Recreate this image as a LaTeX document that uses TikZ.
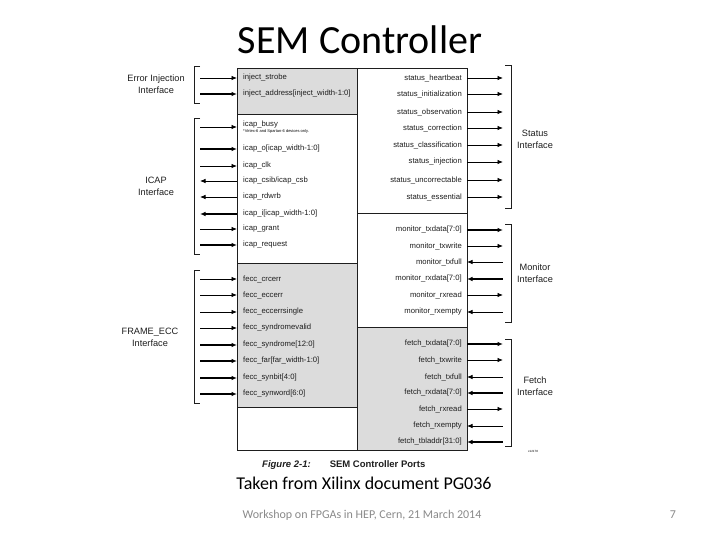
\documentclass[tikz,border=0pt]{standalone}
\usepackage{fontspec}
\setmainfont{Carlito}
\newfontfamily\arialf{Liberation Sans}
\usetikzlibrary{arrows.meta}
\definecolor{boxgray}{RGB}{220,220,220}
\definecolor{footgray}{RGB}{137,137,137}
\definecolor{linecol}{RGB}{30,30,30}
\tikzset{
  lbl/.style={inner sep=0pt,font=\arialf\fontsize{7.7}{8}\selectfont,text=linecol},
  iface/.style={inner sep=0pt,align=center,font=\arialf\fontsize{9.2}{12}\selectfont,text=linecol},
  fwdthin/.style={draw=black,line width=0.8pt,-{Latex[length=5.5pt,width=4.5pt]}},
  fwdthick/.style={draw=black,line width=2.4pt,-{Latex[length=5.5pt,width=4.5pt]}},
  backthin/.style={draw=black,line width=0.8pt,{Latex[length=5.5pt,width=4.5pt]}-},
  backthick/.style={draw=black,line width=2.4pt,{Latex[length=5.5pt,width=4.5pt]}-},
  sect/.style={draw=linecol,line width=0.8pt},
  brk/.style={draw=linecol,line width=0.8pt}
}
% left port: name, y, text, style
\newcommand\portL[4]{%
  \node[lbl,anchor=west] (#1) at (243,#2) {#3};
  \coordinate (#1e) at (200,#2);
  \coordinate (#1b) at (237,#2);
  \draw[#4] (#1e) -- (#1b);
}
% right port: name, y, text, style
\newcommand\portR[4]{%
  \node[lbl,anchor=east] (#1) at (462,#2) {#3};
  \coordinate (#1e) at (503,#2);
  \coordinate (#1b) at (467,#2);
  \draw[#4] (#1b) -- (#1e);
}
\begin{document}
\begin{tikzpicture}[x=1pt,y=-1pt]
\useasboundingbox (0,0) rectangle (720,540);
% title
\node[font=\fontsize{40}{44}\selectfont] (title) at (360,40) {SEM Controller};
% box sections
\draw[sect,fill=boxgray] (237,68) rectangle (357,114);
\draw[sect,fill=white] (237,114) rectangle (357,263);
\draw[sect,fill=boxgray] (237,263) rectangle (357,407);
\draw[sect,fill=white] (237,407) rectangle (357,450);
\draw[sect,fill=white] (357,68) rectangle (467,213);
\draw[sect,fill=white] (357,213) rectangle (467,327);
\draw[sect,fill=boxgray] (357,327) rectangle (467,450);
% left ports
\portL{p1}{78}{inject\_strobe}{fwdthin}
\portL{p2}{94}{inject\_address[inject\_width-1:0]}{fwdthick}
\node[lbl,anchor=west] (p3) at (243,124.5) {icap\_busy};
\coordinate (p3e) at (200,127); \coordinate (p3b) at (237,127);
\draw[fwdthin] (p3e) -- (p3b);
\node[inner sep=0pt,anchor=west,font=\arialf\fontsize{4}{5}\selectfont] (fn) at (243,131.5) {*Virtex-6 and Spartan-6 devices only.};
\portL{p4}{149}{icap\_o[icap\_width-1:0]}{fwdthick}
\portL{p5}{166}{icap\_clk}{fwdthin}
\portL{p6}{181}{icap\_csib/icap\_csb}{backthin}
\portL{p7}{197}{icap\_rdwrb}{backthin}
\portL{p8}{214}{icap\_i[icap\_width-1:0]}{backthick}
\portL{p9}{229}{icap\_grant}{fwdthin}
\portL{p10}{245}{icap\_request}{fwdthick}
\portL{p11}{279}{fecc\_crcerr}{fwdthin}
\portL{p12}{295}{fecc\_eccerr}{fwdthin}
\portL{p13}{312}{fecc\_eccerrsingle}{fwdthin}
\portL{p14}{328}{fecc\_syndromevalid}{fwdthin}
\portL{p15}{345}{fecc\_syndrome[12:0]}{fwdthick}
\portL{p16}{361}{fecc\_far[far\_width-1:0]}{fwdthick}
\portL{p17}{378}{fecc\_synbit[4:0]}{fwdthick}
\portL{p18}{394}{fecc\_synword[6:0]}{fwdthick}
% right ports
\portR{q1}{78}{status\_heartbeat}{fwdthin}
\portR{q2}{94}{status\_initialization}{fwdthin}
\portR{q3}{112}{status\_observation}{fwdthin}
\portR{q4}{128}{status\_correction}{fwdthin}
\portR{q5}{145}{status\_classification}{fwdthin}
\portR{q6}{162}{status\_injection}{fwdthin}
\portR{q7}{180}{status\_uncorrectable}{fwdthin}
\portR{q8}{197}{status\_essential}{fwdthin}
\portR{q9}{230}{monitor\_txdata[7:0]}{fwdthick}
\portR{q10}{246}{monitor\_txwrite}{fwdthin}
\portR{q11}{262}{monitor\_txfull}{backthin}
\portR{q12}{279}{monitor\_rxdata[7:0]}{backthick}
\portR{q13}{295}{monitor\_rxread}{fwdthin}
\portR{q14}{312}{monitor\_rxempty}{backthin}
\portR{q15}{344}{fetch\_txdata[7:0]}{fwdthick}
\portR{q16}{360}{fetch\_txwrite}{fwdthin}
\portR{q17}{377}{fetch\_txfull}{backthin}
\portR{q18}{393}{fetch\_rxdata[7:0]}{backthick}
\portR{q19}{409}{fetch\_rxread}{fwdthin}
\portR{q20}{426}{fetch\_rxempty}{backthin}
\portR{q21}{442}{fetch\_tbladdr[31:0]}{backthick}
% brackets left
\draw[brk] (200,66) -- (194,66) -- (194,103) -- (200,103);
\draw[brk] (200,118) -- (194,118) -- (194,254) -- (200,254);
\draw[brk] (200,270) -- (194,270) -- (194,403) -- (200,403);
% brackets right
\draw[brk] (505,65) -- (511,65) -- (511,208) -- (505,208);
\draw[brk] (505,224) -- (511,224) -- (511,322) -- (505,322);
\draw[brk] (505,339) -- (511,339) -- (511,446) -- (505,446);
% interface labels
\node[iface] (ei) at (156,84) {Error Injection\\Interface};
\node[iface] (ic) at (156,186) {ICAP\\Interface};
\node[iface] (fe) at (150,337) {FRAME\_ECC\\Interface};
\node[iface] (st) at (535,139) {Status\\Interface};
\node[iface] (mo) at (535,273) {Monitor\\Interface};
\node[iface] (fi) at (535,386) {Fetch\\Interface};
\node[inner sep=0pt,font=\arialf\fontsize{3}{4}\selectfont] (code) at (533,451) {x12178};
% caption
\node[inner sep=0pt,anchor=west,font=\arialf\bfseries\fontsize{9.5}{11}\selectfont,text=linecol] (cap) at (262,465) {\itshape Figure 2-1:\upshape\hspace{2em}SEM Controller Ports};
\node[font=\fontsize{18}{20}\selectfont] (taken) at (364,483) {Taken from Xilinx document PG036};
\node[font=\fontsize{12}{14}\selectfont,text=footgray] (foot) at (362,515) {Workshop on FPGAs in HEP, Cern, 21 March 2014};
\node[font=\fontsize{12}{14}\selectfont,text=footgray] (pg) at (673,515) {7};
\end{tikzpicture}
\end{document}
